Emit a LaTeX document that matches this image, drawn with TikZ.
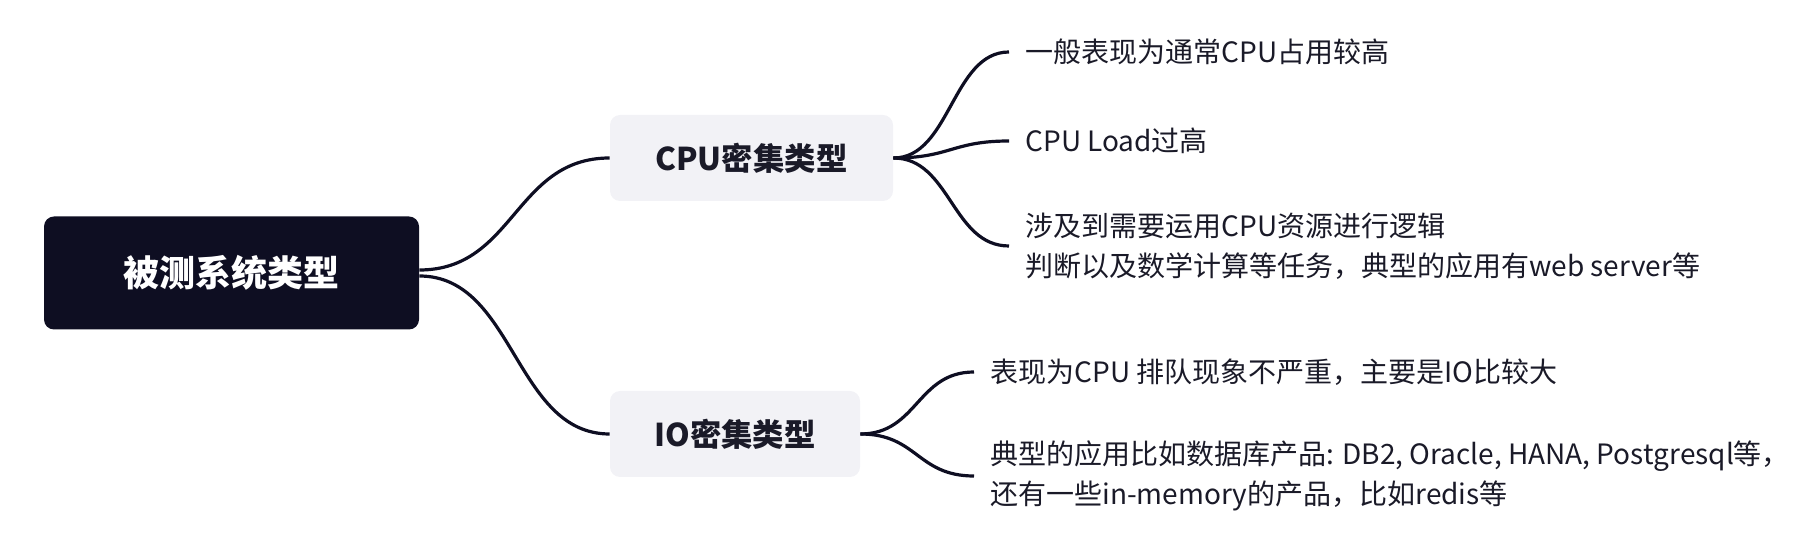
\documentclass[tikz,border=0pt]{standalone}
\usepackage{fontspec}
\setmainfont{Noto Sans CJK SC}
\definecolor{ink}{HTML}{0E0E22}
\definecolor{txt}{HTML}{1A1A28}
\definecolor{pale}{HTML}{F2F2F6}
\begin{document}
\begin{tikzpicture}[x=0.5pt,y=-0.5pt,
  conn/.style={draw=ink, line width=1.6pt},
  rootbox/.style={fill=ink, text=white, rounded corners=5pt, minimum width=187.5pt, minimum height=56.5pt, font=\fontsize{18}{22}\selectfont\bfseries, inner sep=0pt},
  subbox/.style={fill=pale, text=txt, rounded corners=5pt, minimum height=43pt, font=\fontsize{15.7}{18}\selectfont\bfseries, inner sep=0pt},
  leaf/.style={text=txt, anchor=west, inner xsep=8pt, inner ysep=0pt, align=left, font=\fontsize{14}{20}\selectfont}]
\useasboundingbox (0,0) rectangle (1814,544);
\node[rootbox] (root) at (231.5,273) {被测系统类型};
\node[subbox, minimum width=141.5pt] (cpu) at (751.5,158) {CPU密集类型};
\node[subbox, minimum width=125pt] (io) at (735,434) {IO密集类型};
\node[leaf] (c1) at (1009,52) {一般表现为通常CPU占用较高};
\node[leaf] (c2) at (1009,141) {CPU Load过高};
\node[leaf] (c3) at (1009,246) {涉及到需要运用CPU资源进行逻辑\\判断以及数学计算等任务，典型的应用有web server等};
\node[leaf] (i1) at (974,372) {表现为CPU 排队现象不严重，主要是IO比较大};
\node[leaf] (i2) at (974,476) {典型的应用比如数据库产品: DB2, Oracle, HANA, Postgresql等，\\还有一些in-memory的产品，比如redis等};
\draw[conn] ([yshift=1.5pt]root.east) .. controls +(95,0) and +(-95,0) .. (cpu.west);
\draw[conn] ([yshift=-1.5pt]root.east) .. controls +(95,0) and +(-95,0) .. (io.west);
\draw[conn] (cpu.east) .. controls +(57,0) and +(-57,0) .. (c1.west);
\draw[conn] (cpu.east) .. controls +(57,0) and +(-57,0) .. (c2.west);
\draw[conn] (cpu.east) .. controls +(57,0) and +(-57,0) .. (c3.west);
\draw[conn] (io.east) .. controls +(57,0) and +(-57,0) .. (i1.west);
\draw[conn] (io.east) .. controls +(57,0) and +(-57,0) .. (i2.west);
\end{tikzpicture}
\end{document}
